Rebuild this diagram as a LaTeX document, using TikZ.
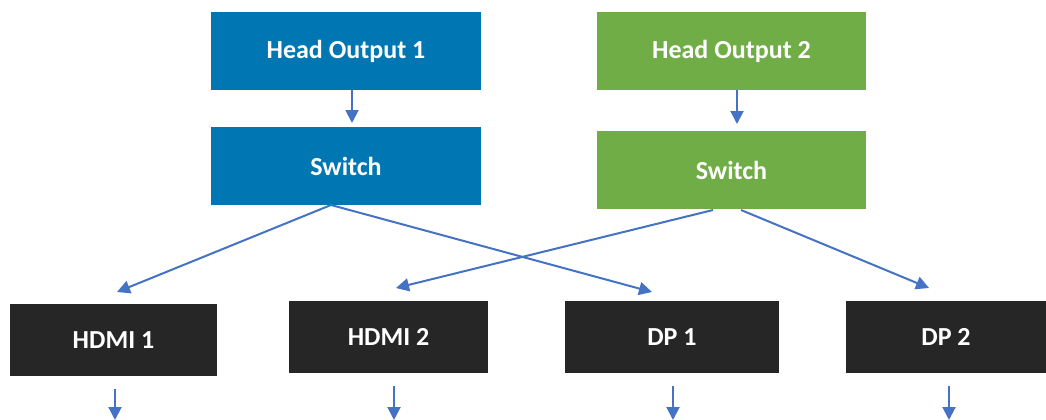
\documentclass[tikz,border=0pt]{standalone}
\usepackage{fontspec}
\setmainfont{Carlito}
\usetikzlibrary{arrows.meta}
\definecolor{hblue}{HTML}{0077B3}
\definecolor{hgreen}{HTML}{70AD47}
\definecolor{hdark}{HTML}{262626}
\definecolor{arr}{HTML}{4472C4}
\tikzset{
  box/.style={rectangle, inner sep=0pt, text=white, font=\bfseries\fontsize{26}{30}\selectfont},
  conn/.style={draw=arr, line width=2pt, -{Triangle[width=13pt,length=13pt]}},
}
\begin{document}
\begin{tikzpicture}[x=1pt,y=-1pt]
\useasboundingbox (0,0) rectangle (1046,420);
\node[box, fill=hblue, minimum width=270pt, minimum height=78pt] (ho1) at (346,51) {Head Output 1};
\node[box, fill=hblue, minimum width=270pt, minimum height=78pt] (sw1) at (346,166) {Switch};
\node[box, fill=hgreen, minimum width=269pt, minimum height=78pt] (ho2) at (731.5,51) {Head Output 2};
\node[box, fill=hgreen, minimum width=269pt, minimum height=78pt] (sw2) at (731.5,170) {Switch};
\node[box, fill=hdark, minimum width=207pt, minimum height=72pt] (hd1) at (113.5,340) {HDMI 1};
\node[box, fill=hdark, minimum width=199pt, minimum height=72pt] (hd2) at (388.5,337) {HDMI 2};
\node[box, fill=hdark, minimum width=214pt, minimum height=72pt] (dp1) at (672,337) {DP 1};
\node[box, fill=hdark, minimum width=200pt, minimum height=72pt] (dp2) at (946,337) {DP 2};
% connector points
\coordinate (ho1b) at (352,90);
\coordinate (sw1t) at (352,123);
\coordinate (ho2b) at (737,90);
\coordinate (sw2t) at (737,124);
\coordinate (s1o) at (331,205);
\coordinate (s2l) at (713,210);
\coordinate (s2r) at (741,210);
\coordinate (hd1t) at (117,292);
\coordinate (hd2t) at (396,288);
\coordinate (dp1t) at (652,292);
\coordinate (dp2t) at (929,288);
\coordinate (hd1b) at (115,389);
\coordinate (hd2b) at (394,386);
\coordinate (dp1b) at (673,386);
\coordinate (dp2b) at (949,386);
\coordinate (hd1e) at (115,420);
\coordinate (hd2e) at (394,420);
\coordinate (dp1e) at (673,420);
\coordinate (dp2e) at (949,420);
\draw[conn] (ho1b) -- (sw1t);
\draw[conn] (ho2b) -- (sw2t);
\draw[conn] (s1o) -- (hd1t);
\draw[conn] (s1o) -- (dp1t);
\draw[conn] (s2l) -- (hd2t);
\draw[conn] (s2r) -- (dp2t);
\draw[conn] (hd1b) -- (hd1e);
\draw[conn] (hd2b) -- (hd2e);
\draw[conn] (dp1b) -- (dp1e);
\draw[conn] (dp2b) -- (dp2e);
\end{tikzpicture}
\end{document}
